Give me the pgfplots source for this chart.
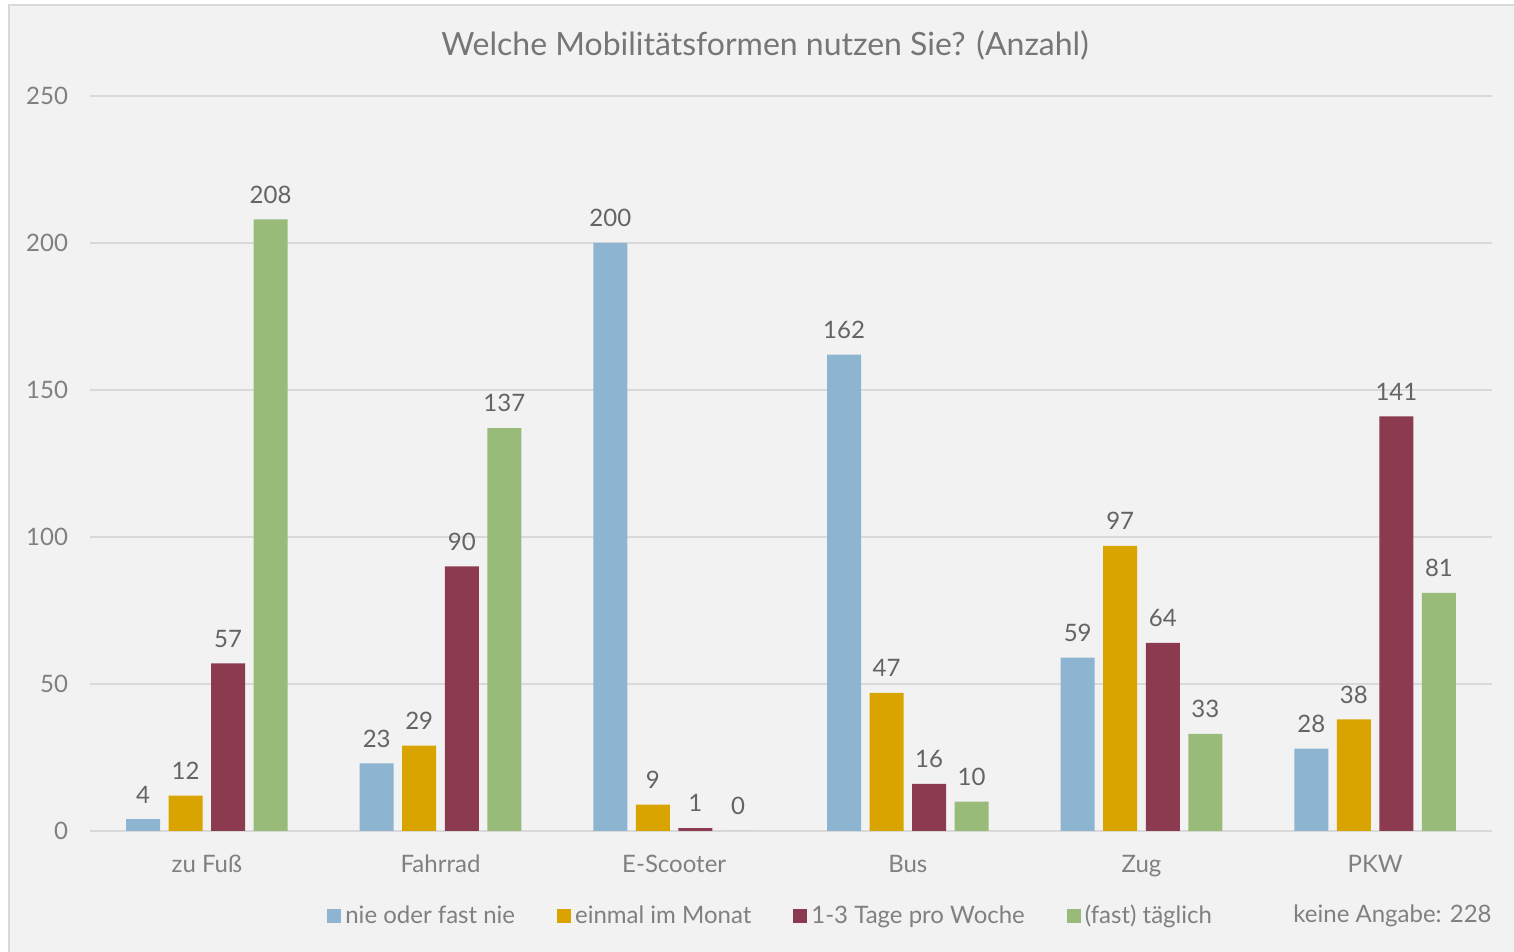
\documentclass[border=0pt]{standalone}
\usepackage{pgfplots}
\pgfplotsset{compat=1.18}
\usepackage{fontspec}
\setmainfont{Lato}
\definecolor{cBlue}{RGB}{141,180,208}
\definecolor{cGold}{RGB}{218,164,0}
\definecolor{cRed}{RGB}{139,58,80}
\definecolor{cGreen}{RGB}{152,187,122}
\definecolor{bgc}{RGB}{242,242,242}
\definecolor{gridc}{RGB}{217,217,217}
\definecolor{tickc}{RGB}{128,128,128}
\definecolor{labc}{RGB}{100,100,100}
\definecolor{titc}{RGB}{118,118,118}
\begin{document}
\begin{tikzpicture}
\fill[white] (0,0) rectangle (757pt,476pt);
\fill[bgc] (4pt,0) rectangle (757pt,474pt);
\draw[gridc, line width=1pt] (4.5pt,-1pt) -- (4.5pt,473.5pt) -- (758pt,473.5pt);
\begin{axis}[
  at={(45pt,60.5pt)}, anchor=south west,
  scale only axis, width=701pt, height=367.5pt,
  ybar, bar width=0.1455,
  xmin=-0.5, xmax=5.5, ymin=0, ymax=250,
  xtick={0,1,2,3,4,5},
  xticklabels={zu Fuß, Fahrrad, E-Scooter, Bus, Zug, PKW},
  ytick={0,50,100,150,200,250},
  axis line style={draw=none},
  major tick length=0pt,
  ymajorgrids, grid style={gridc, line width=1pt},
  /pgf/number format/assume math mode=true,
  tick label style={font=\fontsize{12}{14}\selectfont, text=tickc},
  yticklabel style={xshift=-7.5pt},
  xticklabel style={yshift=-8.5pt},
  nodes near coords,
  every node near coord/.append style={font=\fontsize{12}{14}\selectfont, text=labc, yshift=4.5pt},
  legend columns=4,
  legend style={at={(axis description cs:0.169,-0.1156)}, anchor=west, draw=none, fill=none,
    inner sep=0pt, font=\fontsize{12}{14}\selectfont, text=tickc,
    /tikz/every even column/.append style={column sep=19pt}},
  legend image code/.code={\fill[#1] (0pt,-3.5pt) rectangle (7pt,3.5pt);},
  legend cell align=left,
]
\addplot[fill=cBlue, draw=none, bar shift=-0.273] coordinates {(0,4) (1,23) (2,200) (3,162) (4,59) (5,28)};
\addplot[fill=cGold, draw=none, bar shift=-0.091] coordinates {(0,12) (1,29) (2,9) (3,47) (4,97) (5,38)};
\addplot[fill=cRed, draw=none, bar shift=0.091] coordinates {(0,57) (1,90) (2,1) (3,16) (4,64) (5,141)};
\addplot[fill=cGreen, draw=none, bar shift=0.273] coordinates {(0,208) (1,137) (2,0) (3,10) (4,33) (5,81)};
\legend{nie oder fast nie, einmal im Monat, 1-3 Tage pro Woche, (fast) täglich}
\end{axis}
\node[font=\fontsize{16}{19}\selectfont, text=titc] at (382.5pt,453.5pt) {Welche Mobilitätsformen nutzen Sie? (Anzahl)};
\node[font=\fontsize{12}{14}\selectfont, text=tickc, anchor=east, inner sep=0pt] at (746pt,18pt) {keine Angabe: 228};
\pgfresetboundingbox
\useasboundingbox (0,0) rectangle (757pt,476pt);
\end{tikzpicture}
\end{document}
